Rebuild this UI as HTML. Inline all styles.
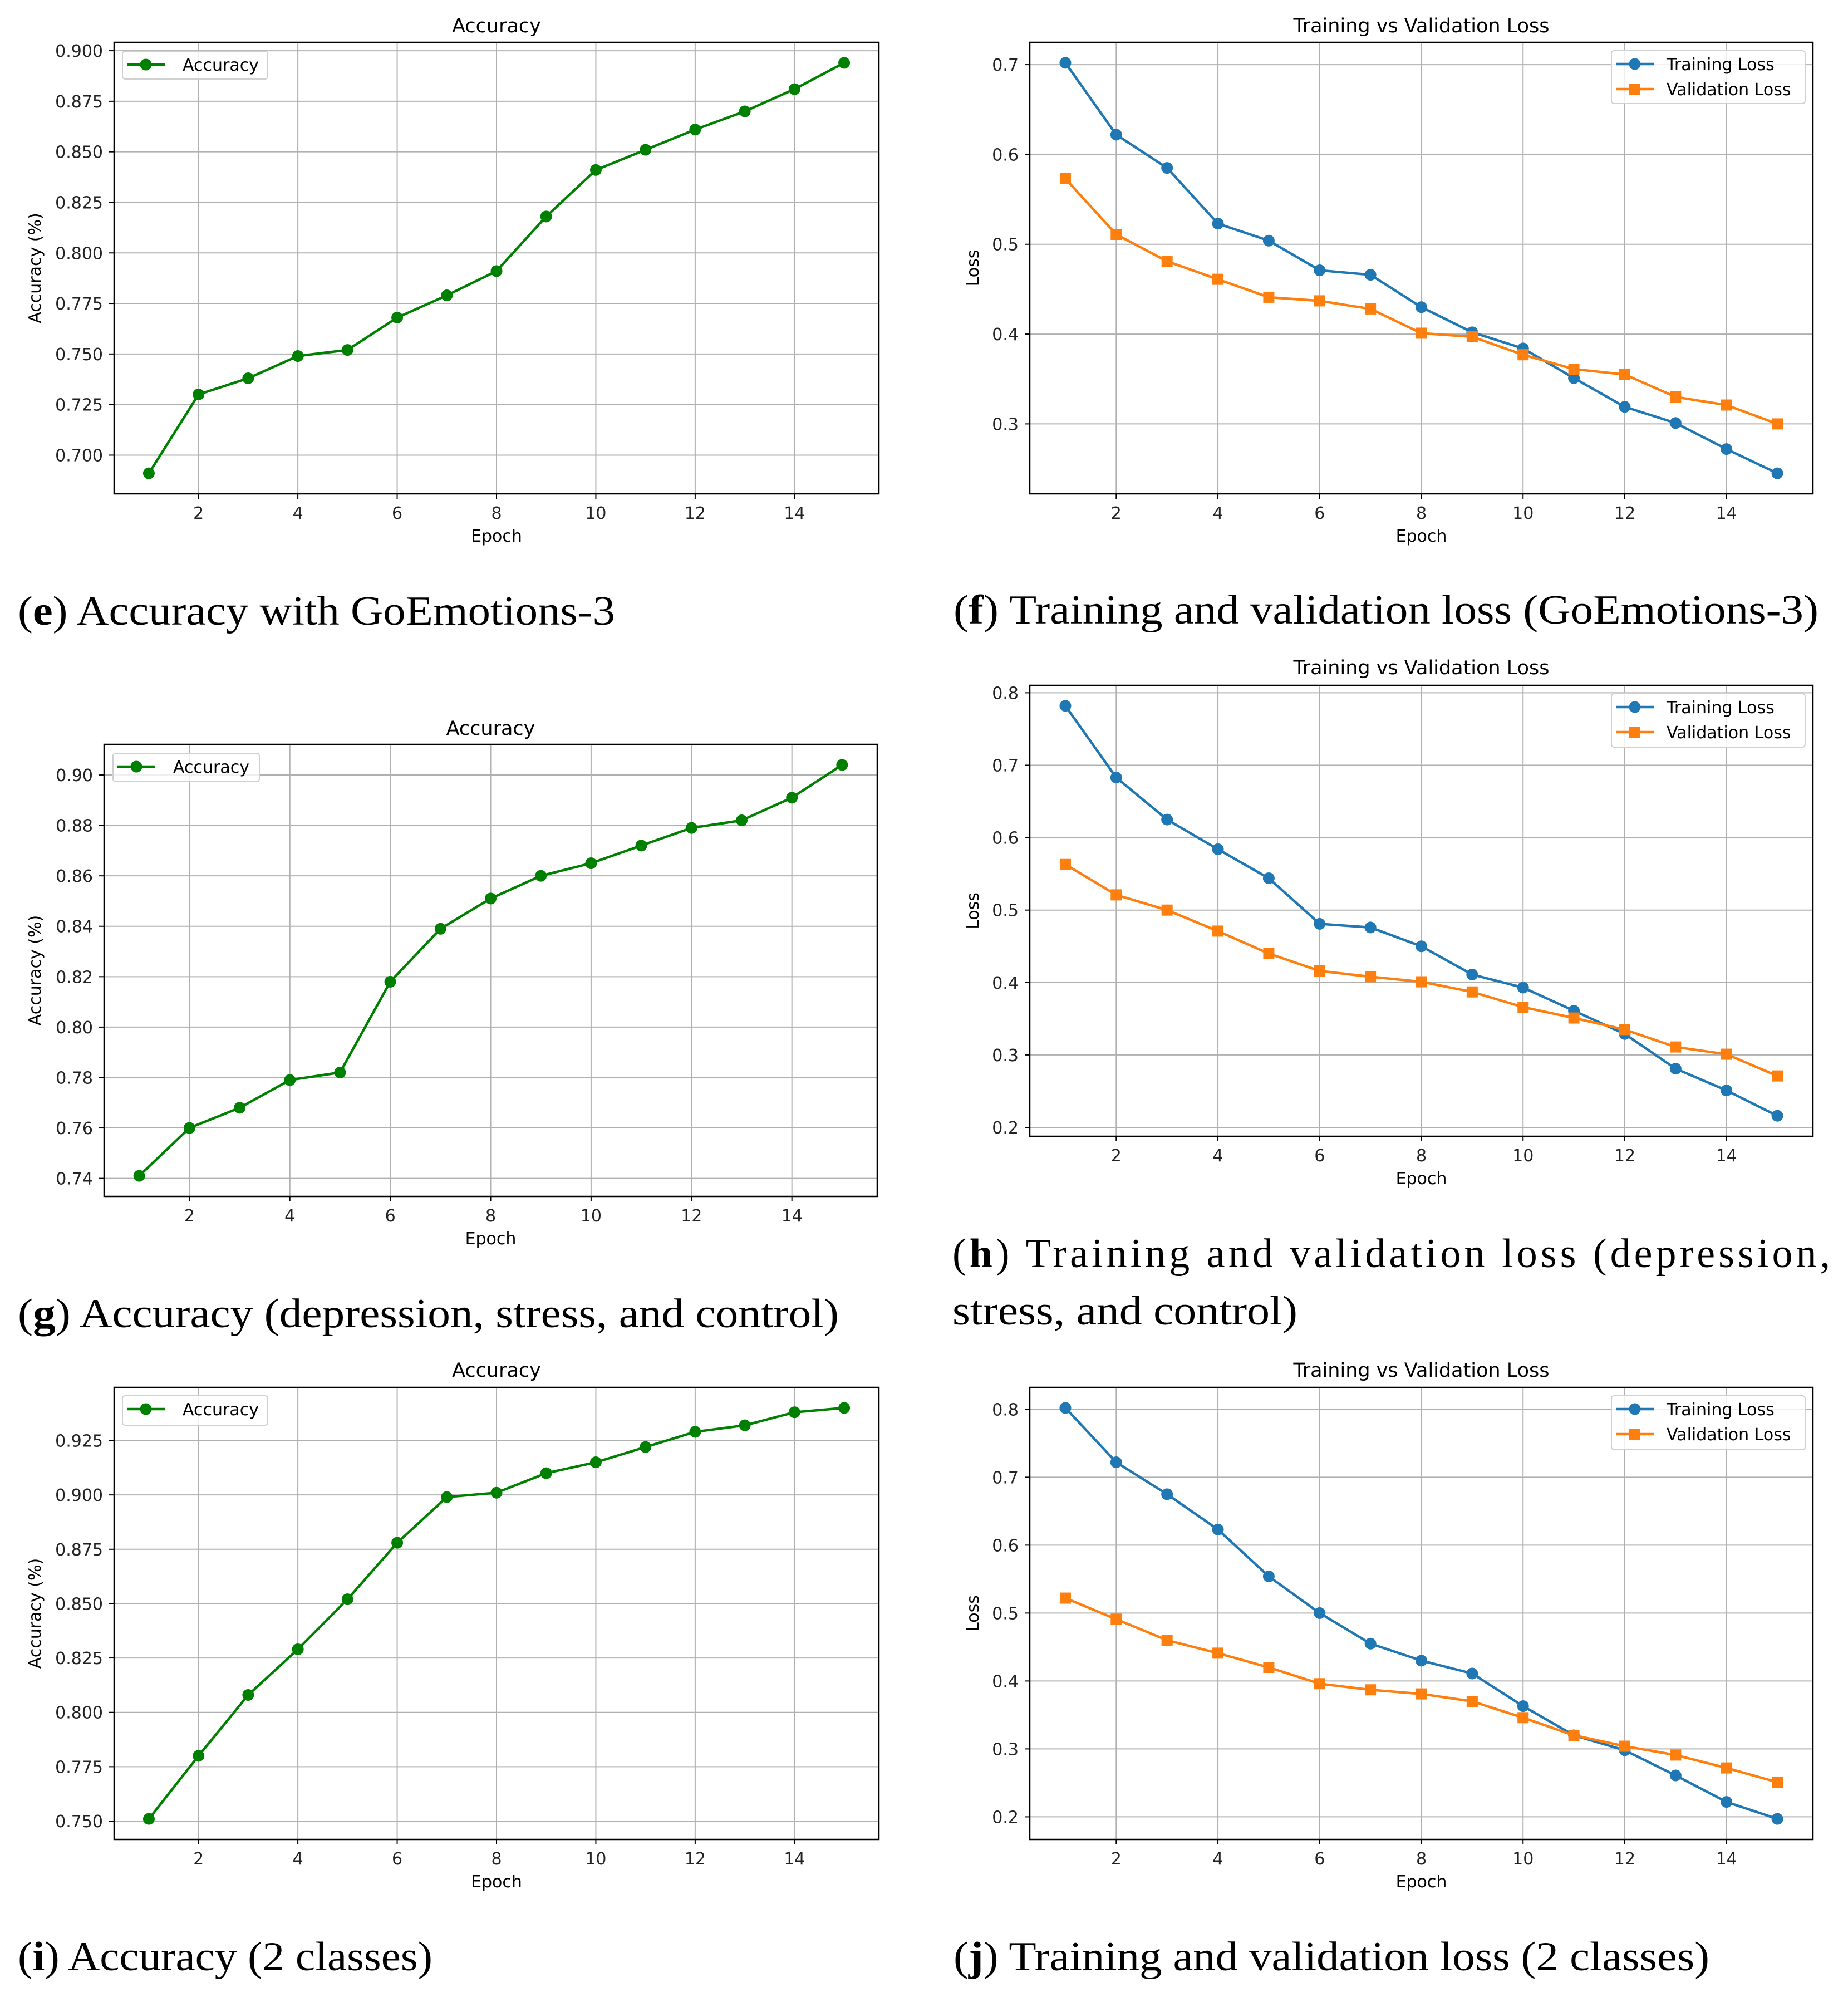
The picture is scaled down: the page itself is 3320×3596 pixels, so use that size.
<!DOCTYPE html>
<html><head><meta charset="utf-8"><style>
html,body{margin:0;padding:0;background:#fff;}
svg{display:block;}
</style></head><body>
<svg id="fig" xmlns="http://www.w3.org/2000/svg" width="3320" height="3596" viewBox="0 0 3320 3596">
<rect width="3320" height="3596" fill="#fff"/>
<g font-family="'Liberation Serif', serif" font-size="74" fill="#000">
<text x="32" y="1122" textLength="1073" lengthAdjust="spacingAndGlyphs">(<tspan font-weight="bold">e</tspan>) Accuracy with GoEmotions-3</text>
<text x="1713" y="1120" textLength="1554" lengthAdjust="spacingAndGlyphs">(<tspan font-weight="bold">f</tspan>) Training and validation loss (GoEmotions-3)</text>
<text x="32" y="2384" textLength="1475" lengthAdjust="spacingAndGlyphs">(<tspan font-weight="bold">g</tspan>) Accuracy (depression, stress, and control)</text>
<text x="1711" y="2276" textLength="1577" lengthAdjust="spacing">(<tspan font-weight="bold">h</tspan>) Training and validation loss (depression,</text>
<text x="1711" y="2379" textLength="620" lengthAdjust="spacingAndGlyphs">stress, and control)</text>
<text x="32" y="3539" textLength="745" lengthAdjust="spacingAndGlyphs">(<tspan font-weight="bold">i</tspan>) Accuracy (2 classes)</text>
<text x="1713" y="3539" textLength="1358" lengthAdjust="spacingAndGlyphs">(<tspan font-weight="bold">j</tspan>) Training and validation loss (2 classes)</text>
</g>
</svg>
<script>
const epochs = [1,2,3,4,5,6,7,8,9,10,11,12,13,14,15];
const xTicks = [2,4,6,8,10,12,14];
const accE = [0.691,0.730,0.738,0.749,0.752,0.768,0.779,0.791,0.818,0.841,0.851,0.861,0.870,0.881,0.894];
const accETicks = [0.700,0.725,0.750,0.775,0.800,0.825,0.850,0.875,0.900];
const accETickLabels = ["0.700","0.725","0.750","0.775","0.800","0.825","0.850","0.875","0.900"];
const trainF = [0.702,0.622,0.585,0.523,0.504,0.471,0.466,0.430,0.402,0.384,0.351,0.319,0.301,0.272,0.245];
const valF = [0.573,0.511,0.481,0.461,0.441,0.437,0.428,0.401,0.397,0.377,0.361,0.355,0.330,0.321,0.300];
const lossFTicks = [0.3,0.4,0.5,0.6,0.7];
const lossFTickLabels = ["0.3","0.4","0.5","0.6","0.7"];
const accG = [0.741,0.760,0.768,0.779,0.782,0.818,0.839,0.851,0.860,0.865,0.872,0.879,0.882,0.891,0.904];
const accGTicks = [0.74,0.76,0.78,0.80,0.82,0.84,0.86,0.88,0.90];
const accGTickLabels = ["0.74","0.76","0.78","0.80","0.82","0.84","0.86","0.88","0.90"];
const trainH = [0.782,0.683,0.625,0.584,0.544,0.481,0.476,0.450,0.411,0.393,0.361,0.329,0.281,0.251,0.216];
const valH = [0.563,0.521,0.500,0.471,0.440,0.416,0.408,0.401,0.387,0.366,0.351,0.335,0.311,0.301,0.271];
const lossHTicks = [0.2,0.3,0.4,0.5,0.6,0.7,0.8];
const lossHTickLabels = ["0.2","0.3","0.4","0.5","0.6","0.7","0.8"];
const accI = [0.751,0.780,0.808,0.829,0.852,0.878,0.899,0.901,0.910,0.915,0.922,0.929,0.932,0.938,0.940];
const accITicks = [0.750,0.775,0.800,0.825,0.850,0.875,0.900,0.925];
const accITickLabels = ["0.750","0.775","0.800","0.825","0.850","0.875","0.900","0.925"];
const trainJ = [0.802,0.722,0.675,0.623,0.554,0.500,0.455,0.430,0.411,0.363,0.320,0.298,0.261,0.222,0.197];
const valJ = [0.522,0.491,0.460,0.441,0.420,0.396,0.387,0.381,0.370,0.346,0.320,0.304,0.291,0.272,0.251];
const lossJTicks = [0.2,0.3,0.4,0.5,0.6,0.7,0.8];
const lossJTickLabels = ["0.2","0.3","0.4","0.5","0.6","0.7","0.8"];

const NS = "http://www.w3.org/2000/svg";
const svg = document.getElementById('fig');
function mk(tag, attrs, parent){
  const e = document.createElementNS(NS, tag);
  for (const k in attrs) e.setAttribute(k, attrs[k]);
  (parent||svg).appendChild(e);
  return e;
}
const FONT = "'DejaVu Sans', 'Liberation Sans', sans-serif";

function panel(p){
  const g = mk('g', {'font-family': FONT});
  
  
  const L=p.L, R=p.R, T=p.T, B=p.B;
  let all = [];
  p.series.forEach(s => all = all.concat(s.values));
  let mn = Math.min(...all), mx = Math.max(...all);
  const pad = (mx-mn)*0.05; mn -= pad; mx += pad;
  const x0 = epochs[0], x1 = epochs[epochs.length-1];
  const xp = (x1-x0)*0.05;
  const xs = v => L + (v-(x0-xp))/((x1+xp)-(x0-xp))*(R-L);
  const ys = v => B - (v-mn)/(mx-mn)*(B-T);
  // grid
  xTicks.forEach(t => {
    const ln = mk('line', {x1:xs(t), x2:xs(t), y1:T, y2:B, stroke:'#b0b0b0', 'stroke-width':2}, g);
    
    
    const tk = mk('line', {x1:xs(t), x2:xs(t), y1:B, y2:B+9, stroke:'#000', 'stroke-width':2}, g);
    
    
    const tx = mk('text', {x:xs(t), y:B+45, 'font-size':30, 'text-anchor':'middle', fill:'#222'}, g);
    tx.textContent = String(t);
    
    
  });
  p.ticks.forEach((t,i) => {
    const ln = mk('line', {x1:L, x2:R, y1:ys(t), y2:ys(t), stroke:'#b0b0b0', 'stroke-width':2}, g);
    
    
    const tk = mk('line', {x1:L-9, x2:L, y1:ys(t), y2:ys(t), stroke:'#000', 'stroke-width':2}, g);
    
    
    const tx = mk('text', {x:L-20, y:ys(t)+11, 'font-size':30, 'text-anchor':'end', fill:'#222'}, g);
    tx.textContent = p.tickLabels[i];
    
    
  });
  // series
  p.series.forEach(s => {
    const pts = s.values.map((v,i)=> xs(epochs[i]).toFixed(1)+','+ys(v).toFixed(1)).join(' ');
    const pl = mk('polyline', {points:pts, fill:'none', stroke:s.color, 'stroke-width':4.5, 'stroke-linejoin':'round'}, g);
    
    
    s.values.forEach((v,i) => {
      let m;
      if (s.marker==='square') m = mk('rect', {x:xs(epochs[i])-10, y:ys(v)-10, width:20, height:20, fill:s.color}, g);
      else m = mk('circle', {cx:xs(epochs[i]), cy:ys(v), r:10.5, fill:s.color}, g);
      
      
    });
  });
  const fr = mk('rect', {x:L, y:T, width:R-L, height:B-T, fill:'none', stroke:'#000', 'stroke-width':2.5}, g);
  
  
  const ti = mk('text', {x:(L+R)/2, y:p.titleY+12, 'font-size':35, 'text-anchor':'middle', fill:'#000'}, g);
  ti.textContent = p.title;
  
  
  const xl = mk('text', {x:(L+R)/2, y:B+86, 'font-size':30, 'text-anchor':'middle', fill:'#000'}, g);
  xl.textContent = 'Epoch';
  
  
  const cy = (T+B)/2;
  const yl = mk('text', {x:p.ylabX, y:cy, 'font-size':30, 'text-anchor':'middle', fill:'#000', transform:`rotate(-90 ${p.ylabX} ${cy})`, dy:10}, g);
  yl.textContent = p.ylabel;
  
  
  // legend
  const lg = p.legend;
  const lgg = mk('g', {}, g);
  
  
  mk('rect', {x:lg.x, y:lg.y, width:lg.w, height:lg.h, rx:5, fill:'#fff', 'fill-opacity':0.8, stroke:'#d0d0d0', 'stroke-width':2}, lgg);
  p.series.forEach((s,i) => {
    const ry = lg.y + 24 + i*45;
    const ent = mk('g', {}, lgg);
    
    
    mk('line', {x1:lg.x+8, x2:lg.x+76, y1:ry, y2:ry, stroke:s.color, 'stroke-width':4.5}, ent);
    if (s.marker==='square') mk('rect', {x:lg.x+32, y:ry-10, width:20, height:20, fill:s.color}, ent);
    else mk('circle', {cx:lg.x+42, cy:ry, r:10.5, fill:s.color}, ent);
    const t = mk('text', {x:lg.x+lg.tx, y:ry+11, 'font-size':30, fill:'#000'}, ent);
    t.textContent = s.label;
  });
}

const GREEN = '#008000', BLUE = '#1f77b4', ORANGE = '#ff7f0e';
panel({name:'chart-e-accuracy', L:205, R:1579, T:76, B:887, titleY:46, title:'Accuracy', ylabel:'Accuracy (%)', ylabX:63,
  ticks:accETicks, tickLabels:accETickLabels,
  series:[{id:'accuracy', label:'Accuracy', values:accE, color:GREEN, marker:'circle'}],
  legend:{x:220, y:92, w:261, h:50, tx:108}});
panel({name:'chart-f-loss', L:1850, R:3257, T:76, B:887, titleY:46, title:'Training vs Validation Loss', ylabel:'Loss', ylabX:1748,
  ticks:lossFTicks, tickLabels:lossFTickLabels,
  series:[{id:'training-loss', label:'Training Loss', values:trainF, color:BLUE, marker:'circle'},
          {id:'validation-loss', label:'Validation Loss', values:valF, color:ORANGE, marker:'square'}],
  legend:{x:2895, y:91, w:348, h:95, tx:99}});
panel({name:'chart-g-accuracy', L:187, R:1576, T:1337, B:2149, titleY:1308, title:'Accuracy', ylabel:'Accuracy (%)', ylabX:63,
  ticks:accGTicks, tickLabels:accGTickLabels,
  series:[{id:'accuracy', label:'Accuracy', values:accG, color:GREEN, marker:'circle'}],
  legend:{x:203, y:1353, w:263, h:51, tx:108}});
panel({name:'chart-h-loss', L:1850, R:3257, T:1231, B:2041, titleY:1199, title:'Training vs Validation Loss', ylabel:'Loss', ylabX:1748,
  ticks:lossHTicks, tickLabels:lossHTickLabels,
  series:[{id:'training-loss', label:'Training Loss', values:trainH, color:BLUE, marker:'circle'},
          {id:'validation-loss', label:'Validation Loss', values:valH, color:ORANGE, marker:'square'}],
  legend:{x:2895, y:1246, w:348, h:96, tx:99}});
panel({name:'chart-i-accuracy', L:205, R:1579, T:2492, B:3304, titleY:2461, title:'Accuracy', ylabel:'Accuracy (%)', ylabX:63,
  ticks:accITicks, tickLabels:accITickLabels,
  series:[{id:'accuracy', label:'Accuracy', values:accI, color:GREEN, marker:'circle'}],
  legend:{x:220, y:2507, w:261, h:53, tx:108}});
panel({name:'chart-j-loss', L:1850, R:3257, T:2492, B:3304, titleY:2461, title:'Training vs Validation Loss', ylabel:'Loss', ylabX:1748,
  ticks:lossJTicks, tickLabels:lossJTickLabels,
  series:[{id:'training-loss', label:'Training Loss', values:trainJ, color:BLUE, marker:'circle'},
          {id:'validation-loss', label:'Validation Loss', values:valJ, color:ORANGE, marker:'square'}],
  legend:{x:2895, y:2507, w:348, h:97, tx:99}});
</script>
</body></html>
